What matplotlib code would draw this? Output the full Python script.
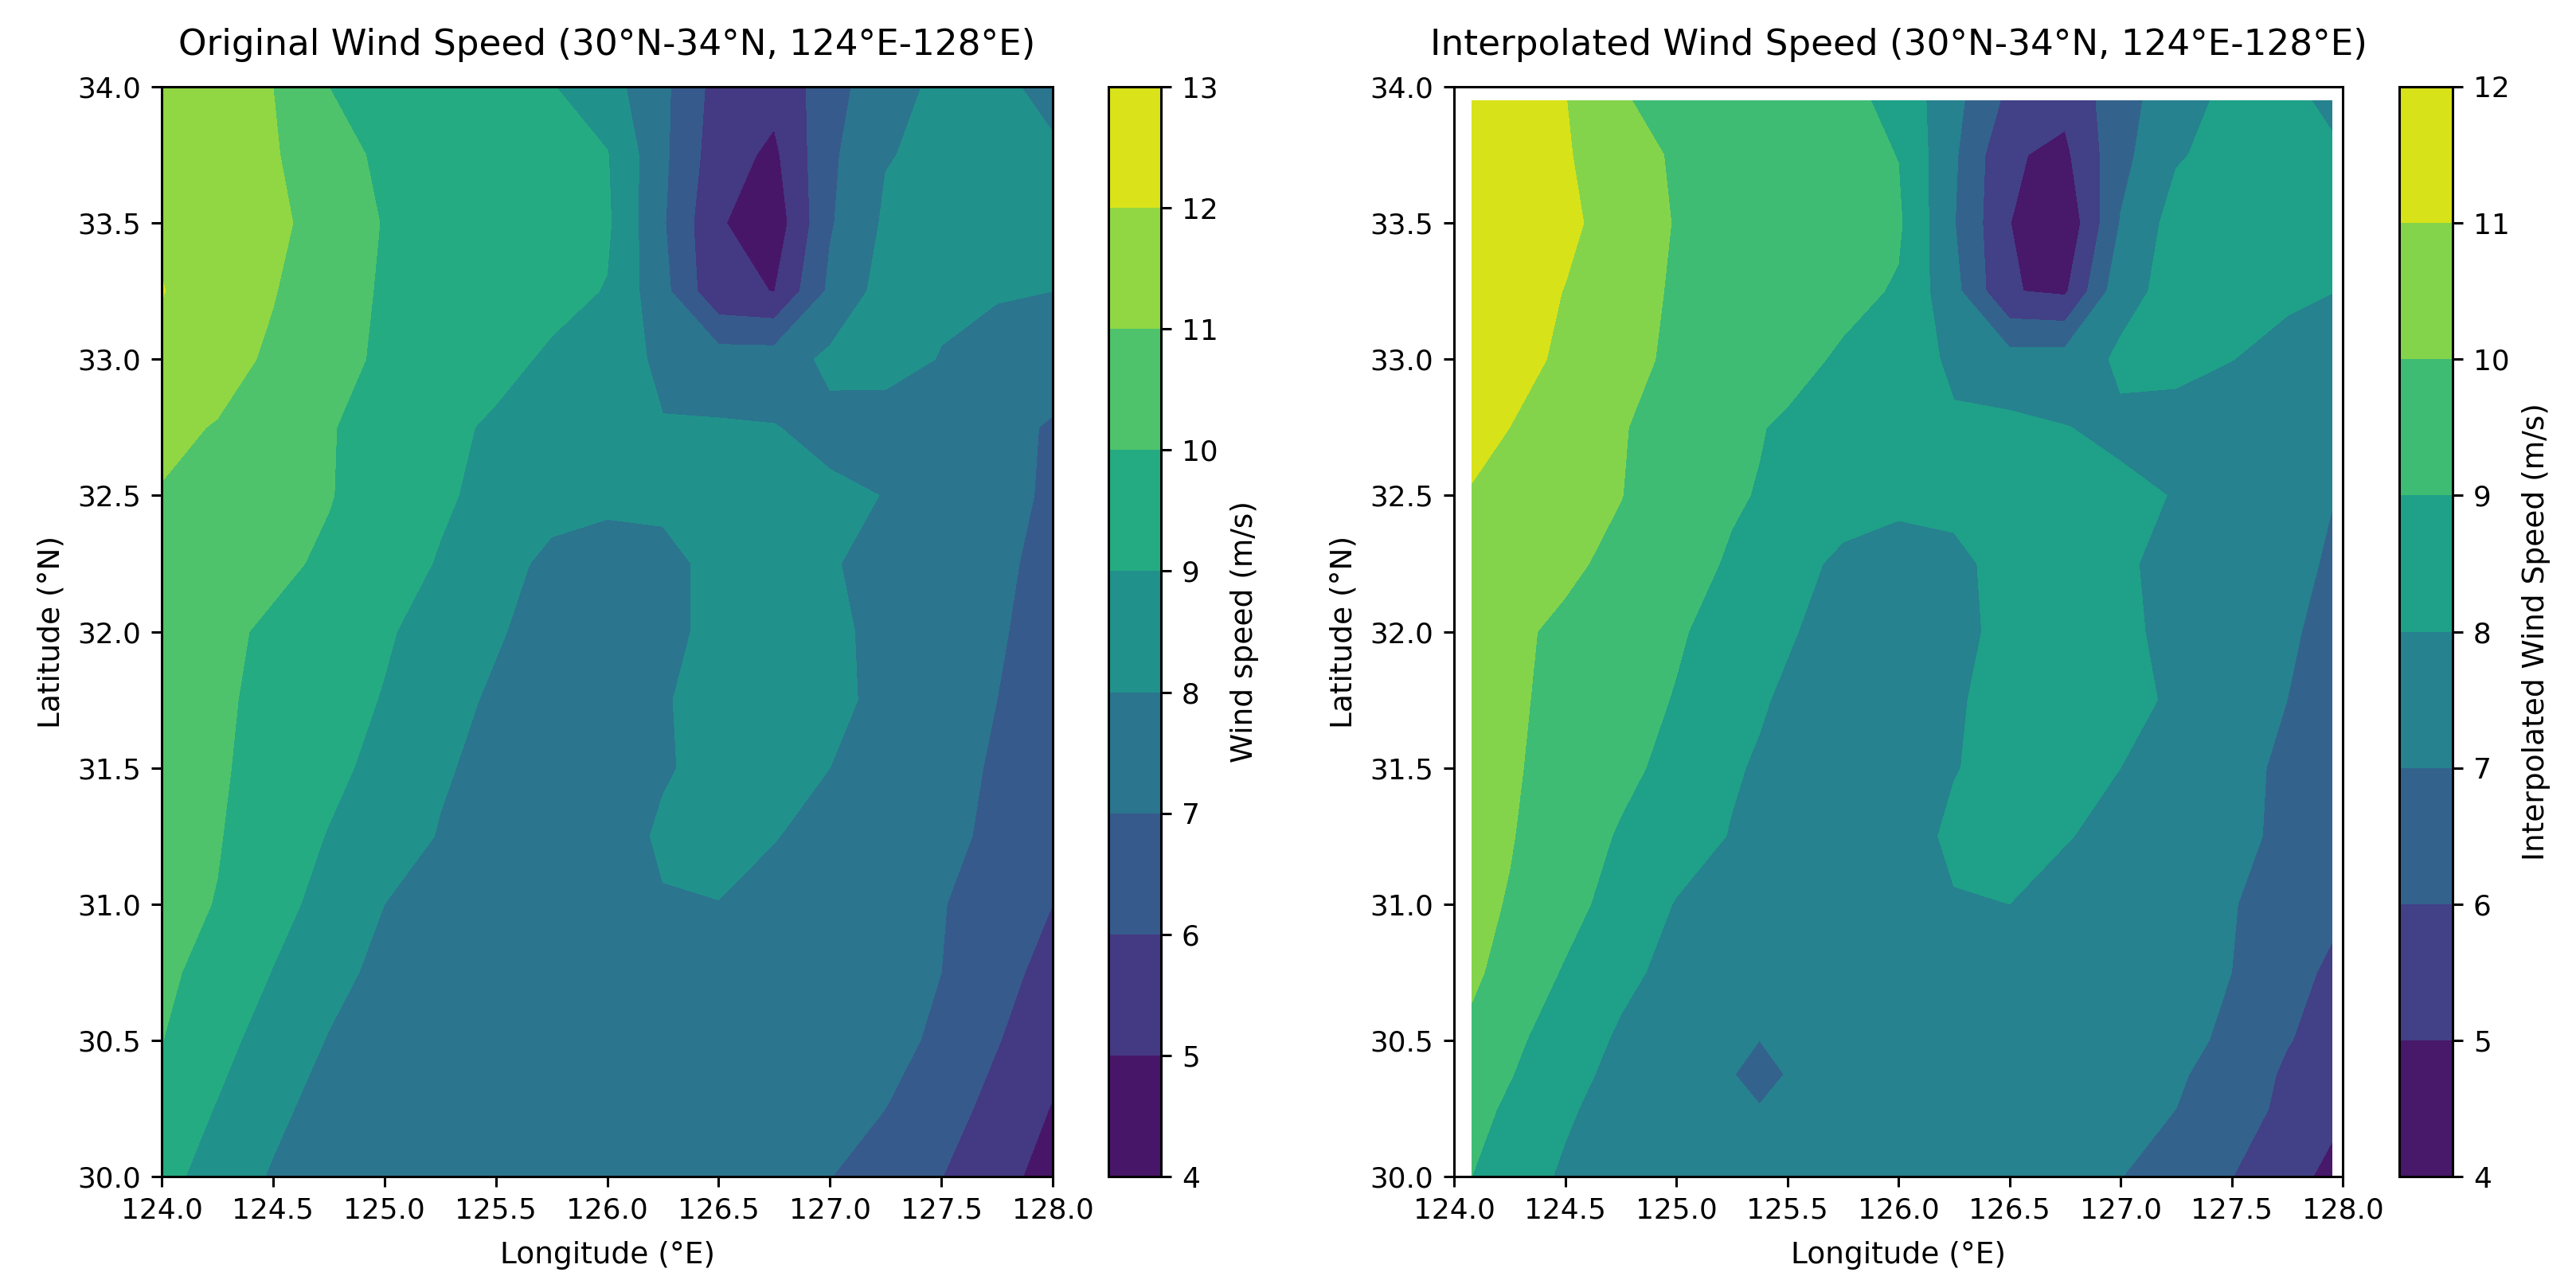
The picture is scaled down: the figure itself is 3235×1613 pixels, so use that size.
import numpy as np
import matplotlib
matplotlib.use("Agg")
import matplotlib.pyplot as plt

# Original grid, 0.25 deg
lon_orig = [124.0, 124.25, 124.5, 124.75, 125.0, 125.25, 125.5, 125.75, 126.0,
            126.25, 126.5, 126.75, 127.0, 127.25, 127.5, 127.75, 128.0]
lat_orig = [34.0, 33.75, 33.5, 33.25, 33.0, 32.75, 32.5, 32.25, 32.0,
            31.75, 31.5, 31.25, 31.0, 30.75, 30.5, 30.25, 30.0]
wind_orig = [
    [11.7, 11.4, 11.0, 10.0, 9.77, 9.53, 9.29, 9.05, 8.39, 7.23, 5.6, 5.33, 6.5, 7.8, 8.11, 8.3, 7.6],
    [11.8, 11.5, 11.1, 10.3, 9.85, 9.65, 9.45, 9.25, 9.05, 7.2, 5.42, 4.8, 6.8, 7.95, 8.2, 8.4, 8.2],
    [11.9, 11.6, 11.25, 10.55, 9.95, 9.75, 9.55, 9.35, 9.15, 7.1, 5.1, 4.4, 6.9, 8.15, 8.35, 8.5, 8.5],
    [12.03, 11.6, 11.05, 10.4, 9.9, 9.7, 9.5, 9.3, 8.95, 7.3, 5.2, 4.98, 7.2, 8.4, 8.2, 8.1, 8.0],
    [11.8, 11.35, 10.85, 10.3, 9.85, 9.65, 9.3, 8.85, 8.5, 7.8, 7.5, 7.5, 8.2, 8.4, 7.95, 7.55, 7.25],
    [11.2, 10.95, 10.55, 10.05, 9.7, 9.25, 8.85, 8.6, 8.4, 8.05, 8.08, 8.03, 7.76, 7.5, 7.3, 7.15, 6.95],
    [10.95, 10.7, 10.4, 10.05, 9.55, 9.1, 8.8, 8.55, 8.35, 8.3, 8.3, 8.25, 8.15, 7.98, 7.6, 7.3, 6.85],
    [10.75, 10.45, 10.2, 9.85, 9.3, 8.95, 8.55, 7.65, 7.35, 7.64, 8.35, 8.35, 8.05, 7.8, 7.5, 7.2, 6.7],
    [10.45, 10.2, 9.85, 9.45, 9.1, 8.65, 8.1, 7.6, 7.3, 7.6, 8.4, 8.45, 8.2, 7.75, 7.45, 7.12, 6.55],
    [10.4, 10.15, 9.75, 9.35, 8.95, 8.35, 7.85, 7.6, 7.45, 7.9, 8.45, 8.5, 8.2, 7.8, 7.4, 7.0, 6.5],
    [10.35, 10.1, 9.7, 9.25, 8.7, 8.1, 7.75, 7.6, 7.5, 7.9, 8.3, 8.3, 8.0, 7.65, 7.3, 6.9, 6.4],
    [10.3, 10.05, 9.55, 8.95, 8.45, 7.95, 7.6, 7.5, 7.5, 8.15, 8.3, 8.03, 7.75, 7.45, 7.25, 6.8, 6.25],
    [10.25, 9.97, 9.3, 8.7, 8.0, 7.7, 7.55, 7.5, 7.5, 7.93, 7.98, 7.75, 7.55, 7.3, 7.05, 6.55, 6.0],
    [10.2, 9.65, 8.97, 8.3, 7.75, 7.55, 7.5, 7.5, 7.5, 7.55, 7.55, 7.5, 7.4, 7.2, 7.0, 6.35, 5.65],
    [10.02, 9.3, 8.6, 7.95, 7.55, 7.5, 7.5, 7.5, 7.5, 7.5, 7.5, 7.45, 7.35, 7.25, 6.85, 6.05, 5.35],
    [9.6, 8.95, 8.25, 7.6, 7.5, 7.5, 7.5, 7.5, 7.5, 7.5, 7.5, 7.45, 7.3, 7.0, 6.4, 5.7, 4.95],
    [9.3, 8.6, 7.9, 7.6, 7.5, 7.5, 7.5, 7.5, 7.5, 7.5, 7.5, 7.3, 7.02, 6.55, 6.02, 5.35, 4.6],
]

# Interpolated field, does not reach the axes edges
lon_interp = [124.08, 124.25, 124.5, 124.75, 125.0, 125.25, 125.375, 125.5, 125.75, 126.0,
              126.25, 126.5, 126.75, 127.0, 127.25, 127.5, 127.75, 127.95]
lat_interp = [33.95, 33.75, 33.5, 33.25, 33.0, 32.75, 32.5, 32.25, 32.0,
              31.75, 31.5, 31.25, 31.0, 30.75, 30.5, 30.375, 30.25, 30.0]
wind_interp = [
    [11.7, 11.4, 11.03, 10.05, 9.8, 9.6, 9.5, 9.45, 9.3, 8.7, 7.3, 5.75, 5.25, 6.6, 7.6, 8.25, 8.3, 7.75],
    [11.9, 11.5, 11.1, 10.35, 9.9, 9.7, 9.6, 9.5, 9.3, 8.98, 7.15, 5.1, 4.8, 6.7, 7.9, 8.35, 8.5, 8.2],
    [11.95, 11.6, 11.25, 10.5, 9.95, 9.75, 9.65, 9.55, 9.35, 9.15, 7.05, 5.02, 4.2, 7.05, 8.4, 8.55, 8.6, 8.6],
    [11.75, 11.5, 10.97, 10.35, 9.9, 9.7, 9.6, 9.5, 9.3, 8.9, 7.3, 5.05, 4.85, 7.7, 8.3, 8.35, 8.2, 8.02],
    [11.65, 11.3, 10.85, 10.25, 9.85, 9.65, 9.5, 9.35, 8.85, 8.45, 7.85, 7.4, 7.45, 8.15, 8.45, 8.02, 7.65, 7.45],
    [11.45, 11.0, 10.55, 10.05, 9.7, 9.25, 9.05, 8.85, 8.6, 8.4, 8.1, 8.2, 8.02, 7.85, 7.4, 7.3, 7.2, 7.1],
    [10.9, 10.7, 10.4, 10.02, 9.55, 9.1, 8.95, 8.8, 8.55, 8.35, 8.3, 8.3, 8.25, 8.15, 7.97, 7.6, 7.3, 7.03],
    [10.65, 10.4, 10.15, 9.8, 9.35, 8.9, 8.7, 8.45, 7.75, 7.4, 7.75, 8.35, 8.35, 8.1, 7.8, 7.5, 7.25, 6.9],
    [10.4, 10.15, 9.85, 9.45, 9.1, 8.65, 8.4, 8.1, 7.6, 7.3, 7.65, 8.35, 8.45, 8.2, 7.75, 7.45, 7.12, 6.75],
    [10.4, 10.15, 9.75, 9.35, 8.95, 8.35, 8.1, 7.85, 7.6, 7.4, 7.85, 8.45, 8.55, 8.3, 7.85, 7.4, 7.0, 6.6],
    [10.4, 10.1, 9.7, 9.25, 8.7, 8.1, 7.9, 7.75, 7.6, 7.5, 7.95, 8.35, 8.35, 8.0, 7.65, 7.25, 6.85, 6.45],
    [10.3, 10.05, 9.55, 8.9, 8.45, 7.95, 7.75, 7.6, 7.45, 7.5, 8.2, 8.35, 8.05, 7.75, 7.45, 7.25, 6.8, 6.3],
    [10.2, 9.95, 9.3, 8.65, 7.95, 7.65, 7.55, 7.5, 7.4, 7.5, 7.93, 8.0, 7.7, 7.55, 7.3, 7.05, 6.6, 6.2],
    [10.2, 9.6, 8.92, 8.25, 7.7, 7.5, 7.42, 7.35, 7.3, 7.45, 7.55, 7.55, 7.5, 7.4, 7.2, 7.0, 6.3, 5.85],
    [9.75, 9.2, 8.55, 7.85, 7.4, 7.15, 7.0, 7.15, 7.3, 7.4, 7.45, 7.45, 7.45, 7.35, 7.22, 6.85, 6.05, 5.65],
    [9.5, 9.05, 8.35, 7.7, 7.45, 7.02, 6.85, 7.02, 7.25, 7.35, 7.45, 7.45, 7.42, 7.3, 7.12, 6.6, 5.85, 5.45],
    [9.3, 8.85, 8.15, 7.55, 7.35, 7.15, 7.02, 7.2, 7.3, 7.4, 7.45, 7.45, 7.4, 7.25, 7.0, 6.4, 5.8, 5.25],
    [9.0, 8.55, 7.85, 7.55, 7.45, 7.4, 7.4, 7.4, 7.4, 7.45, 7.45, 7.45, 7.3, 7.02, 6.55, 6.02, 5.35, 4.75],
]

levels_orig = [4, 5, 6, 7, 8, 9, 10, 11, 12, 13]
levels_interp = [4, 5, 6, 7, 8, 9, 10, 11, 12]

W, H = 3235, 1613
plt.rcParams["axes.linewidth"] = 0.95
plt.rcParams["xtick.major.size"] = 4.1
plt.rcParams["ytick.major.size"] = 4.1
plt.rcParams["xtick.major.width"] = 0.95
plt.rcParams["ytick.major.width"] = 0.95
plt.rcParams["xtick.major.pad"] = 4
plt.rcParams["ytick.major.pad"] = 4
fig = plt.figure(figsize=(W / 231, H / 231), dpi=231)


def panel(x0, x1, cx0, cx1, lon, lat, wind, levels, title, cblabel):
    y0, y1 = 109, 1478
    ax = fig.add_axes([x0 / W, 1 - y1 / H, (x1 - x0) / W, (y1 - y0) / H])
    cs = ax.contourf(lon, lat, np.array(wind), levels=levels, cmap="viridis")
    ax.set_xlim(124, 128)
    ax.set_ylim(30, 34)
    ax.set_xticks(np.arange(124, 128.5, 0.5))
    ax.set_yticks(np.arange(30, 34.5, 0.5))
    ax.tick_params(labelsize=11.2)
    ax.set_title(title, fontsize=14.1, pad=12.5)
    ax.set_xlabel("Longitude (°E)", fontsize=11.7, labelpad=6.5)
    ax.set_ylabel("Latitude (°N)", fontsize=11.7, labelpad=4.7)
    cax = fig.add_axes([cx0 / W, 1 - y1 / H, (cx1 - cx0) / W, (y1 - y0) / H])
    cb = fig.colorbar(cs, cax=cax)
    cb.set_label(cblabel, fontsize=11.7, labelpad=4.7)
    cb.ax.tick_params(labelsize=11.2)


panel(203, 1322, 1392, 1458, lon_orig, lat_orig, wind_orig, levels_orig,
      "Original Wind Speed (30°N-34°N, 124°E-128°E)", "Wind speed (m/s)")
panel(1826, 2942, 3013, 3080, lon_interp, lat_interp, wind_interp, levels_interp,
      "Interpolated Wind Speed (30°N-34°N, 124°E-128°E)", "Interpolated Wind Speed (m/s)")

fig.savefig("out.png", dpi=231)
